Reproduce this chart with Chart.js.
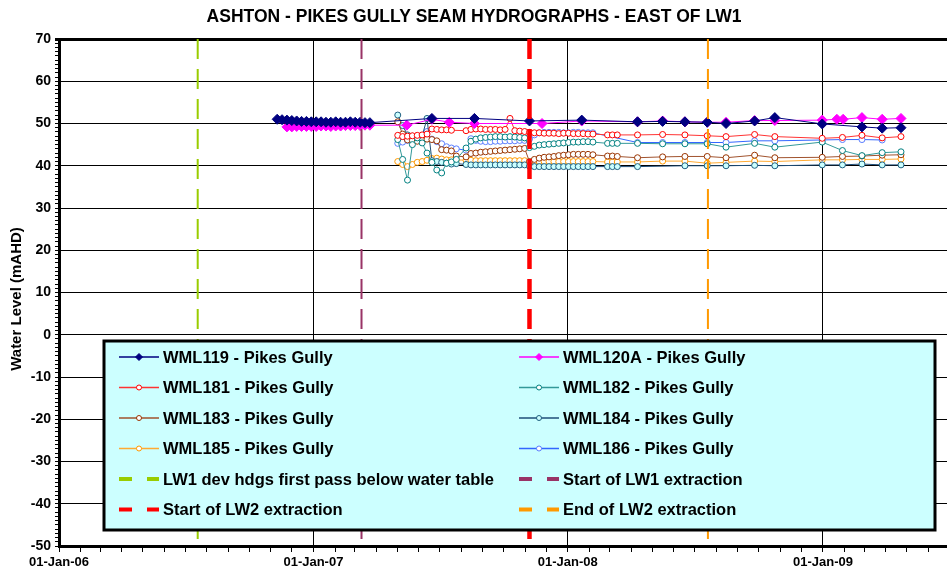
<!DOCTYPE html>
<html>
<head>
<meta charset="utf-8">
<title>Ashton - Pikes Gully Seam Hydrographs</title>
<script src="https://cdn.jsdelivr.net/npm/chart.js@4.4.1/dist/chart.umd.min.js"></script>
<style>
  html, body { margin: 0; padding: 0; background: #fff; }
  #wrap { width: 947px; height: 575px; }
</style>
</head>
<body>
<div id="wrap"><canvas id="hydro" width="947" height="575"></canvas></div>
<script>
// ---- data ----
const wml119Dates = ['2006-11-10','2006-11-17','2006-11-24','2006-12-01','2006-12-08','2006-12-15','2006-12-22','2006-12-29',
  '2007-01-05','2007-01-12','2007-01-19','2007-01-26','2007-02-02','2007-02-09','2007-02-16','2007-02-23','2007-03-02',
  '2007-03-09','2007-03-16','2007-03-23','2007-06-20','2007-08-20','2007-11-07','2008-01-21','2008-04-10','2008-05-16',
  '2008-06-17','2008-07-19','2008-08-15','2008-09-25','2008-10-24','2008-12-31','2009-02-26','2009-03-27','2009-04-23'];
const wml119 = [51.0, 50.9, 50.8, 50.7, 50.6, 50.5, 50.5, 50.4, 50.4, 50.4, 50.3, 50.3, 50.4, 50.3, 50.3, 50.4, 50.3,
  50.3, 50.2, 50.2, 51.2, 51.2, 50.6, 50.8, 50.4, 50.5, 50.4, 50.3, 50.0, 50.6, 51.4, 49.9, 49.2, 48.9, 49.0];

const wml120aDates = ['2006-11-24','2006-12-01','2006-12-08','2006-12-15','2006-12-22','2006-12-29','2007-01-05',
  '2007-01-12','2007-01-19','2007-01-26','2007-02-02','2007-02-09','2007-02-16','2007-02-23','2007-03-02','2007-03-09',
  '2007-03-16','2007-03-23','2007-05-15','2007-06-20','2007-07-15','2007-08-20','2007-11-25','2008-01-21','2008-04-10',
  '2008-05-16','2008-06-17','2008-07-19','2008-08-15','2008-09-25','2008-10-24','2008-12-31','2009-01-21','2009-01-30',
  '2009-02-26','2009-03-27','2009-04-23'];
const wml120a = [49.2, 49.2, 49.3, 49.3, 49.3, 49.3, 49.3, 49.4, 49.4, 49.3, 49.4, 49.4, 49.5, 49.5, 49.5, 49.5,
  49.6, 49.6, 49.6, 51.0, 50.3, 50.0, 50.0, 50.6, 50.4, 50.6, 50.4, 50.3, 50.3, 50.7, 50.7, 50.8, 51.0, 51.0,
  51.4, 51.0, 51.2];

// shared sampling dates for WML181 - WML186
const pgDates = ['2007-05-02','2007-05-09','2007-05-16','2007-05-23','2007-05-30','2007-06-06','2007-06-13','2007-06-20',
  '2007-06-27','2007-07-04','2007-07-11','2007-07-18','2007-07-25','2007-08-01','2007-08-08','2007-08-15','2007-08-22',
  '2007-08-29','2007-09-05','2007-09-12','2007-09-19','2007-09-26','2007-10-03','2007-10-10','2007-10-17','2007-10-24',
  '2007-10-31','2007-11-07','2007-11-14','2007-11-21','2007-11-28','2007-12-05','2007-12-12','2007-12-19','2007-12-26',
  '2008-01-02','2008-01-09','2008-01-16','2008-01-23','2008-01-30','2008-02-06',
  '2008-02-27','2008-03-05','2008-03-12','2008-04-10','2008-05-16','2008-06-17','2008-07-19','2008-08-15','2008-09-25',
  '2008-10-24','2008-12-31','2009-01-29','2009-02-26','2009-03-27','2009-04-23'];
const wml181 = [47.2, 46.9, 47.0, 47.1, 47.2, 47.3, 47.5, 48.7, 48.6, 48.5, 48.5, 48.4, null, null, 48.3, 48.6, 48.7,
  48.7, 48.6, 48.6, 48.6, 48.5, 48.6, 51.2, 48.3, 48.2, 48.1, 47.9, 47.8, 47.8, 47.7, 47.7, 47.7, 47.6, 47.7,
  47.7, 47.6, 47.6, 47.6, 47.5, 47.5,
  47.3, 47.3, 47.3, 47.3, 47.4, 47.3, 47.1, 46.9, 47.4, 46.9, 46.5, 46.7, 47.2, 46.6, 46.9];
const wml182 = [46.2, 41.5, 36.6, 45.0, 46.6, 45.4, 43.0, 40.8, 39.0, 38.3, 40.6, 40.9, 41.5, null, 44.2, 45.8, 46.3,
  46.6, 46.7, 46.8, 46.9, 46.9, 46.8, 46.9, 46.8, 46.7, 46.6, 44.3, 44.6, 44.9, 45.0, 45.1, 45.2, 45.3, 45.4,
  45.5, 45.6, 45.6, 45.7, 45.7, 45.6,
  45.3, 45.3, 45.3, 45.3, 45.2, 45.2, 45.2, 44.4, 45.3, 44.4, 45.6, 43.6, 42.4, 43.1, 43.3];
const wml183 = [50.4, 47.5, 46.1, 46.0, 45.8, 46.0, 46.3, 46.2, 45.9, 43.8, 43.7, 43.5, 42.3, null, 42.1, 42.9, 43.0,
  43.2, 43.3, 43.4, 43.5, 43.6, 43.7, 43.8, 43.9, 44.0, 44.1, 41.0, 41.5, 41.8, 42.0, 42.1, 42.2, 42.4, 42.5,
  42.6, 42.7, 42.7, 42.7, 42.7, 42.6,
  42.3, 42.3, 42.2, 41.9, 42.1, 42.2, 42.2, 41.9, 42.5, 41.9, 42.0, 42.2, 42.3, 42.5, 42.6];
const wml184 = [52.0, 49.5, 47.3, 47.0, 46.8, 47.0, 51.2, 41.2, 41.0, 40.8, 40.6, 40.4, 40.5, null, 40.3, 40.2, 40.2,
  40.2, 40.2, 40.2, 40.2, 40.2, 40.2, 40.2, 40.2, 40.2, 40.2, 39.9, 39.8, 39.8, 39.8, 39.8, 39.8, 39.8, 39.8,
  39.8, 39.8, 39.8, 39.8, 39.8, 39.8,
  39.8, 39.8, 39.8, 39.8, null, 40.0, 40.0, 40.0, 40.1, 40.0, 40.2, 40.2, 40.4, 40.2, 40.2];
const wml185 = [41.0, 40.3, 39.8, 40.3, 40.8, 41.0, 41.3, 41.7, 41.8, 41.6, 41.4, 41.4, 41.4, null, 41.3, 41.3, 41.2,
  41.2, 41.2, 41.2, 41.2, 41.2, 41.2, 41.2, 41.2, 41.2, 41.2, 40.9, 41.0, 41.0, 41.0, 41.0, 41.0, 41.0, 41.0,
  41.0, 41.0, 41.0, 41.0, 41.0, 41.0,
  40.9, 40.9, 40.9, 40.9, 41.1, 41.1, 40.6, 40.8, 41.1, 41.0, 41.4, 41.4, 41.5, 41.5, 41.6];
const wml186 = [45.3, 45.6, 46.0, 46.2, 46.4, 46.2, 48.1, 46.3, 45.7, 45.2, 44.5, 44.2, 44.0, null, 43.7, 46.4, 46.0,
  45.8, 45.7, 45.7, 45.8, 45.8, 45.9, 45.9, 45.9, 46.0, 46.0, 46.3, 47.3, 47.8, 47.9, 47.9, 47.9, 47.9, 47.8,
  47.8, 47.9, 47.9, 47.8, 47.8, 47.8,
  null, null, null, 45.5, 45.5, 45.5, 45.5, 45.5, 45.9, 45.9, 46.1, 46.2, 46.2, 46.1, null];

// mining events (vertical markers)
const eventLabels = ['LW1 dev hdgs first pass below water table', 'Start of LW1 extraction',
  'Start of LW2 extraction', 'End of LW2 extraction'];
const eventDates = ['2006-07-19', '2007-03-11', '2007-11-07', '2008-07-20'];

const yMin = -50, yMax = 70;
const xStart = '2006-01-01', xEnd = '2009-06-28';
const MONTHS = ['Jan','Feb','Mar','Apr','May','Jun','Jul','Aug','Sep','Oct','Nov','Dec'];

// ---- helpers ----
function toMs(s) {
  const p = s.split('-').map(Number);
  return Date.UTC(p[0], p[1] - 1, p[2]);
}
function pts(dates, vals) {
  return dates.map((d, i) => ({ x: toMs(d), y: vals[i] }));
}
function isJan(v) {
  const d = new Date(v);
  return d.getUTCMonth() === 0 && d.getUTCDate() === 1;
}

const monthTicks = [];
(function () {
  const end = toMs(xEnd);
  for (let y = 2006; y <= 2009; y++) {
    for (let m = 0; m < 12; m++) {
      const v = Date.UTC(y, m, 1);
      if (v <= end) monthTicks.push(v);
    }
  }
})();

function series(label, dates, vals, color, opts) {
  return Object.assign({
    label: label,
    data: pts(dates, vals),
    borderColor: color,
    borderWidth: 1,
    pointBorderColor: color,
    pointBackgroundColor: '#ffffff',
    pointBorderWidth: 1,
    pointStyle: 'circle',
    pointRadius: 3,
    spanGaps: true,
    tension: 0
  }, opts || {});
}

function eventLine(i, color, width) {
  const d = toMs(eventDates[i]);
  return {
    label: eventLabels[i],
    data: [{ x: d, y: yMax }, { x: d, y: yMin }],
    borderColor: color,
    borderWidth: width,
    borderDash: [20, 10],
    pointRadius: 0,
    order: -1,
    isEvent: true
  };
}

// ---- title, axis title and legend box ----
const decorations = {
  id: 'decorations',
  afterDraw(chart) {
    const ctx = chart.ctx;
    ctx.save();
    ctx.fillStyle = '#000';
    ctx.font = "bold 17.5px 'Liberation Sans', Arial, sans-serif";
    ctx.textAlign = 'center';
    ctx.textBaseline = 'middle';
    ctx.fillText('ASHTON - PIKES GULLY SEAM HYDROGRAPHS - EAST OF LW1', 474, 17);

    ctx.save();
    ctx.translate(17, 299);
    ctx.rotate(-Math.PI / 2);
    ctx.font = "bold 15px 'Liberation Sans', Arial, sans-serif";
    ctx.fillText('Water Level (mAHD)', 0, 0);
    ctx.restore();

    // legend
    const bx = 104, by = 341, bw = 831, bh = 189;
    ctx.fillStyle = '#ccffff';
    ctx.fillRect(bx, by, bw, bh);
    ctx.lineWidth = 3;
    ctx.strokeStyle = '#000';
    ctx.strokeRect(bx, by, bw, bh);

    ctx.font = "bold 16.5px 'Liberation Sans', Arial, sans-serif";
    ctx.textAlign = 'left';
    chart.data.datasets.forEach((ds, i) => {
      const row = Math.floor(i / 2), col = i % 2;
      const cy = 357 + row * 30.5;
      const x0 = col === 0 ? 119 : 519;
      const x1 = x0 + 40;
      ctx.save();
      ctx.strokeStyle = ds.borderColor;
      if (ds.isEvent) {
        ctx.lineWidth = 4;
        ctx.setLineDash([13, 15]);
      } else {
        ctx.lineWidth = 1.5;
      }
      ctx.beginPath();
      ctx.moveTo(x0, cy);
      ctx.lineTo(x1, cy);
      ctx.stroke();
      ctx.setLineDash([]);
      if (!ds.isEvent) {
        const mx = (x0 + x1) / 2;
        ctx.fillStyle = ds.pointBackgroundColor;
        ctx.strokeStyle = ds.pointBorderColor;
        ctx.lineWidth = 1;
        ctx.beginPath();
        if (ds.pointStyle === 'rectRot') {
          ctx.moveTo(mx - 3.5, cy); ctx.lineTo(mx, cy - 3.5);
          ctx.lineTo(mx + 3.5, cy); ctx.lineTo(mx, cy + 3.5);
          ctx.closePath();
        } else {
          ctx.arc(mx, cy, 2.5, 0, Math.PI * 2);
        }
        ctx.fill();
        ctx.stroke();
      }
      ctx.restore();
      ctx.fillStyle = '#000';
      ctx.fillText(ds.label, x1 + 4, cy + 1);
    });
    ctx.restore();
  }
};

Chart.defaults.font.family = "'Liberation Sans', Arial, sans-serif";
Chart.defaults.color = '#000';

new Chart(document.getElementById('hydro'), {
  type: 'line',
  data: {
    datasets: [
      series('WML119 - Pikes Gully', wml119Dates, wml119, '#000080',
        { pointStyle: 'rectRot', pointRadius: 5, pointBackgroundColor: '#000080' }),
      series('WML120A - Pikes Gully', wml120aDates, wml120a, '#ff00ff',
        { pointStyle: 'rectRot', pointRadius: 5, pointBackgroundColor: '#ff00ff' }),
      series('WML181 - Pikes Gully', pgDates, wml181, '#ff3333', { pointBorderColor: '#ff0000' }),
      series('WML182 - Pikes Gully', pgDates, wml182, '#339999', { pointBorderColor: '#008080' }),
      series('WML183 - Pikes Gully', pgDates, wml183, '#a0522d', { pointBorderColor: '#993300' }),
      series('WML184 - Pikes Gully', pgDates, wml184, '#1f4e79', { pointBorderColor: '#1f5f80', pointBackgroundColor: '#ccffff' }),
      series('WML185 - Pikes Gully', pgDates, wml185, '#ffaa33', { pointBorderColor: '#ff9900' }),
      series('WML186 - Pikes Gully', pgDates, wml186, '#3366ff', { pointBorderColor: '#5a7dff' }),
      eventLine(0, '#99cc00', 2),
      eventLine(1, '#993366', 2),
      eventLine(2, '#ff0000', 4.5),
      eventLine(3, '#ff9900', 2)
    ]
  },
  options: {
    responsive: false,
    animation: false,
    layout: { autoPadding: false, padding: { top: 39, right: 0, left: 0, bottom: 0 } },
    plugins: {
      legend: { display: false },
      title: { display: false },
      tooltip: { enabled: false }
    },
    scales: {
      x: {
        type: 'linear',
        min: toMs(xStart),
        max: toMs(xEnd),
        afterBuildTicks: scale => { scale.ticks = monthTicks.map(v => ({ value: v })); },
        afterFit: scale => {
          scale.height = 29;
          scale.paddingLeft = 0;
          scale.paddingRight = 0;
        },
        ticks: {
          autoSkip: false,
          maxRotation: 0,
          padding: 3,
          font: { size: 13, weight: 'bold' },
          callback: v => {
            if (!isJan(v)) return '';
            const d = new Date(v);
            return '01-' + MONTHS[d.getUTCMonth()] + '-' + String(d.getUTCFullYear()).slice(2);
          }
        },
        grid: {
          color: c => (c.tick && isJan(c.tick.value)) ? '#000' : 'rgba(0,0,0,0)',
          lineWidth: 1,
          tickColor: '#000',
          tickLength: 6
        },
        border: { color: '#000', width: 3 }
      },
      y: {
        min: yMin,
        max: yMax,
        afterBuildTicks: scale => {
          const t = [];
          for (let v = yMin; v <= yMax; v += 1) t.push({ value: v });
          scale.ticks = t;
        },
        afterFit: scale => {
          scale.width = 59;
          scale.paddingTop = 0;
          scale.paddingBottom = 0;
        },
        ticks: {
          autoSkip: false,
          padding: 4,
          font: { size: 14, weight: 'bold' },
          callback: v => (v % 10 === 0 ? String(v) : '')
        },
        grid: {
          color: c => (c.tick && c.tick.value % 10 === 0) ? '#000' : 'rgba(0,0,0,0)',
          lineWidth: c => (c.tick && c.tick.value === yMax) ? 3 : 1,
          tickColor: '#000',
          tickLength: 4
        },
        border: { color: '#000', width: 3 }
      }
    }
  },
  plugins: [decorations]
});
</script>
</body>
</html>
